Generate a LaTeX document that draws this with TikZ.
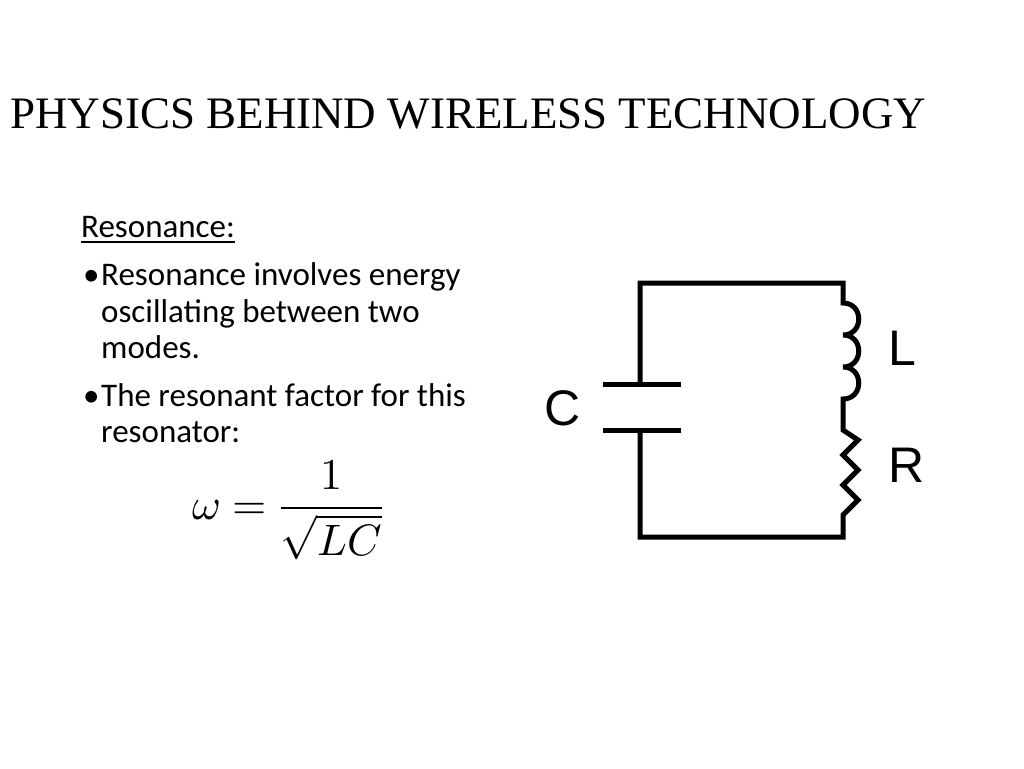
\documentclass[tikz,border=0pt]{standalone}
\usepackage{fontspec}
\usepackage{unicode-math}
\setmainfont{Liberation Serif}
\newfontfamily\bodyfont{Carlito}
\newfontfamily\labelfont{Liberation Sans}
\begin{document}
\begin{tikzpicture}[x=1pt,y=-1pt,
    wire/.style={line width=5pt},
    txt/.style={anchor=base west,inner sep=0pt,font=\bodyfont\fontsize{33}{36}\selectfont},
    lbl/.style={inner sep=0pt,font=\labelfont\fontsize{50}{54}\selectfont}]
        % Page frame
        \useasboundingbox (0,0) rectangle (1024,768);

        % Title
        \node[anchor=base west,inner sep=0pt,font=\fontsize{45}{48}\selectfont] (title) at (10,128) {PHYSICS BEHIND WIRELESS TECHNOLOGY};

        % Bullet text
        \node[txt] (head) at (81,237) {\underline{Resonance:}};
        \node[txt] (b1) at (83,285) {\textbullet};
        \node[txt] (t1) at (101,285) {Resonance involves energy};
        \node[txt] (t2) at (101,322) {oscillating between two};
        \node[txt] (t3) at (101,358) {modes.};
        \node[txt] (b2) at (83,406) {\textbullet};
        \node[txt] (t4) at (101,406) {The resonant factor for this};
        \node[txt] (t5) at (101,442) {resonator:};

        % Resonant frequency
        \node[inner sep=0pt,font=\fontsize{44}{50}\selectfont] (eq) at (288,510) {$\omega=\dfrac{1}{\sqrt{LC}}$};

        % Circuit corners
        \coordinate (TL) at (640,283);
        \coordinate (TR) at (843,283);
        \coordinate (BL) at (640,537);
        \coordinate (BR) at (843,537);
        \coordinate (C1) at (640,384);
        \coordinate (C2) at (640,430);

        % Loop with inductor and resistor
        \draw[wire] (C1) -- (TL) -- (TR) -- (843,303)
            .. controls (864,303) and (864,335) .. (843,335)
            .. controls (864,335) and (864,367) .. (843,367)
            .. controls (864,367) and (864,399) .. (843,399)
            -- (843,430) -- (858,440) -- (843,455) -- (858,470) -- (843,485)
            -- (858,500) -- (843,515) -- (BR) -- (BL) -- (C2);
        \draw[wire] (603,384) -- (681,384);
        \draw[wire] (603,430) -- (681,430);

        % Component labels
        \node[lbl] (C) at (563,408) {C};
        \node[lbl] (L) at (902,348) {L};
        \node[lbl] (R) at (907,465) {R};
    \end{tikzpicture}
\end{document}
